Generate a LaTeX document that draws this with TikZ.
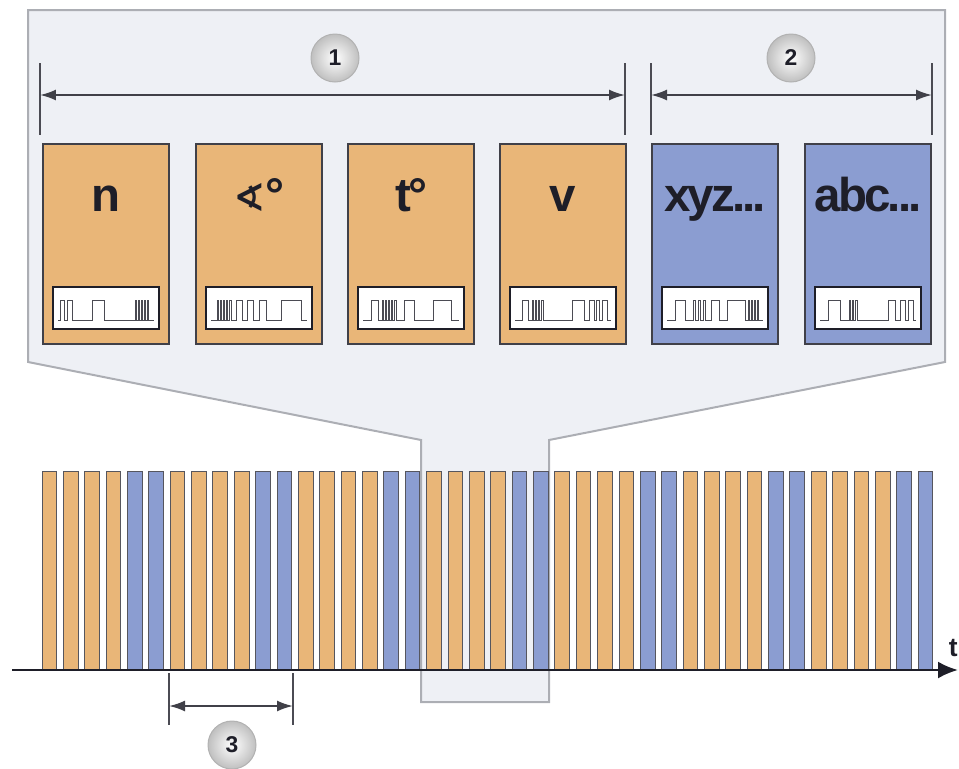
\documentclass[tikz,border=0pt]{standalone}
\usepackage{fontspec}
\setmainfont{Liberation Sans}
\newfontfamily\labelfont[LetterSpace=-6]{Liberation Sans}
\newfontfamily\symfont{DejaVu Sans}
\usetikzlibrary{arrows.meta}
\definecolor{orangefill}{RGB}{233,182,120}
\definecolor{bluefill}{RGB}{139,157,209}
\definecolor{calloutfill}{RGB}{238,240,245}
\definecolor{calloutdraw}{RGB}{172,174,180}
\definecolor{ink}{RGB}{30,30,40}

% pulse train inside a signal box: #1 centre x, #2 pulses a/b
\newcommand{\wave}[2]{%
  \draw[wave] (#1-48,320) \foreach \a/\b in {#2} { -- (#1-48+\a,320) -- (#1-48+\a,300) -- (#1-48+\b,300) -- (#1-48+\b,320) } -- (#1+48,320);
}

\begin{document}
\begin{tikzpicture}[
    x=0.02cm, y=-0.02cm,
    callout/.style={fill=calloutfill, draw=calloutdraw, line width=0.04cm},
    box/.style={rectangle, draw=ink!85, line width=0.025cm, minimum width=2.52cm, minimum height=4cm, inner sep=0pt},
    valbox/.style={box, fill=orangefill},
    infobox/.style={box, fill=bluefill},
    sigbox/.style={rectangle, draw=ink, fill=white, line width=0.035cm, minimum width=2.12cm, minimum height=0.84cm, inner sep=0pt},
    boxlabel/.style={anchor=base, text=ink, font=\labelfont\bfseries\fontsize{27}{30}\selectfont, inner sep=0pt},
    wave/.style={draw=ink!80, line width=0.02cm},
    tick/.style={draw=ink!80, line width=0.025cm},
    dimarrow/.style={draw=ink!85, line width=0.04cm, {Latex[length=0.32cm,width=0.22cm]}-{Latex[length=0.32cm,width=0.22cm]}},
    bar/.style={draw=ink!75, line width=0.02cm},
    axis/.style={draw=ink, line width=0.05cm, -{Latex[length=0.4cm,width=0.34cm]}},
    circlenum/.style={circle, minimum size=0.96cm, inner sep=0pt, shade, inner color=white, outer color=gray!50, draw=gray!60, line width=0.02cm, text=ink, font=\bfseries\fontsize{13}{15}\selectfont}
]
\useasboundingbox (0,0) rectangle (959,768);

% callout
\draw[callout] (28,10) -- (945,10) -- (945,362) -- (549,440) -- (549,702) -- (421,702) -- (421,440) -- (28,362) -- cycle;

% dimension marks
\coordinate (d1-l) at (40,95);
\coordinate (d1-r) at (625,95);
\coordinate (d2-l) at (651,95);
\coordinate (d2-r) at (932,95);
\coordinate (d3-l) at (169,706);
\coordinate (d3-r) at (293,706);

\foreach \c in {d1-l,d1-r,d2-l,d2-r}
    \draw[tick] (\c) ++(0,-32) -- ++(0,72);
\foreach \c in {d3-l,d3-r}
    \draw[tick] (\c) ++(0,-33) -- ++(0,52);

\draw[dimarrow] (d1-l) -- (d1-r);
\draw[dimarrow] (d2-l) -- (d2-r);
\draw[dimarrow] (d3-l) -- (d3-r);

\node[circlenum] (c1) at (335,58) {1};
\node[circlenum] (c2) at (791,58) {2};
\node[circlenum] (c3) at (232,745) {3};

% boxes
\node[valbox] (n) at (106,244) {};
\node[valbox] (angle) at (259,244) {};
\node[valbox] (temp) at (411,244) {};
\node[valbox] (speed) at (563,244) {};
\node[infobox] (xyz) at (715,244) {};
\node[infobox] (abc) at (868,244) {};

\node[boxlabel] (n-lbl) at (106,211) {n};
\node[boxlabel] (angle-lbl) at (259,211) {{\symfont\bfseries\fontsize{22}{24}\selectfont ∢}°};
\node[boxlabel] (temp-lbl) at (411,211) {t°};
\node[boxlabel] (speed-lbl) at (563,211) {v};
\node[boxlabel] (xyz-lbl) at (715,211) {xyz...};
\node[boxlabel] (abc-lbl) at (868,211) {abc...};

\node[sigbox] (n-sig) at (106,308) {};
\node[sigbox] (angle-sig) at (259,308) {};
\node[sigbox] (temp-sig) at (411,308) {};
\node[sigbox] (speed-sig) at (563,308) {};
\node[sigbox] (xyz-sig) at (715,308) {};
\node[sigbox] (abc-sig) at (868,308) {};

\wave{106}{2/6, 9/14, 34/46, 77/78, 80/81, 83/84, 86/87, 89/90}
\wave{259}{6/7, 9/10, 12/13, 15/16, 18/20, 25/31, 36/42, 48/55, 70/90}
\wave{411}{8/15, 19/20, 22/23, 25/26, 28/29, 31/33, 41/51, 70/88}
\wave{563}{7/13, 17/18, 20/21, 23/24, 26/28, 57/69, 74/79, 81/84, 87/92}
\wave{715}{8/18, 26/28, 31/33, 36/38, 44/52, 60/78, 81/82, 84/85, 87/88, 90/91}
\wave{868}{8/20, 29/30, 32/33, 35/37, 68/75, 80/85, 88/93}

% time multiplex bars
\foreach \i in {0,...,41} {
    \pgfmathsetmacro{\x}{42+21.37*\i}
    \pgfmathtruncatemacro{\m}{mod(\i,6)}
    \ifnum\m<4 \def\barcol{orangefill}\else\def\barcol{bluefill}\fi
    \draw[bar, fill=\barcol] (\x,471) rectangle (\x+14.7,670);
}

% time axis
\coordinate (axis-l) at (12,670);
\coordinate (axis-r) at (958,670);
\draw[axis] (axis-l) -- (axis-r);
\node[anchor=east, text=ink, font=\bfseries\fontsize{15}{17}\selectfont, inner sep=0pt] (t-lbl) at (958,648) {t};

\end{tikzpicture}
\end{document}
